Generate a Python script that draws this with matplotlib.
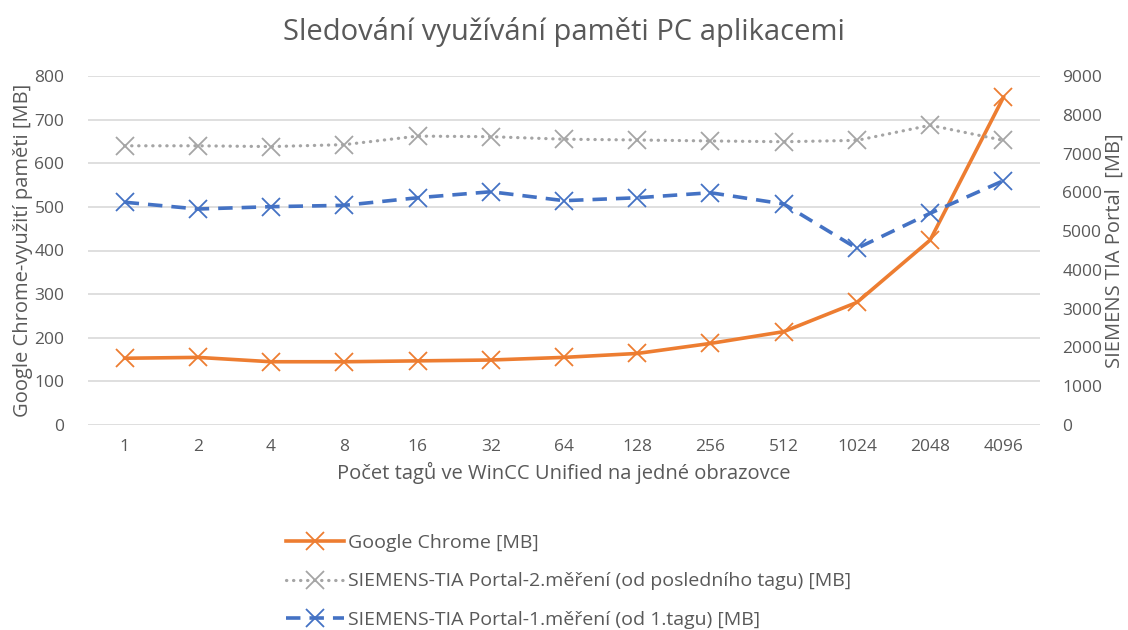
import matplotlib
matplotlib.use("Agg")
import matplotlib.pyplot as plt
from matplotlib.lines import Line2D

plt.rcParams['font.family'] = ['Open Sans', 'DejaVu Sans']

categories = ["1", "2", "4", "8", "16", "32", "64", "128", "256", "512", "1024", "2048", "4096"]
chrome_mb = [153, 155, 145, 145, 147, 149, 155, 164, 187, 214, 281, 424, 751]
tia_2_mb = [7200, 7200, 7180, 7230, 7450, 7435, 7370, 7350, 7325, 7305, 7340, 7730, 7340]
tia_1_mb = [5745, 5570, 5630, 5665, 5860, 6015, 5785, 5860, 5990, 5700, 4555, 5460, 6300]

left_ticks = [0, 100, 200, 300, 400, 500, 600, 700, 800]
right_ticks = [0, 1000, 2000, 3000, 4000, 5000, 6000, 7000, 8000, 9000]

ORANGE = "#ED7D31"
GRAY = "#A5A5A5"
BLUE = "#4472C4"
TXT = "#595959"
GRID = "#D9D9D9"

DOT = (0, (0.1, 2.1))
DASH = (0, (4, 2.5))

W, H = 1128, 630
fig = plt.figure(figsize=(W / 100, H / 100), dpi=100)
x0, x1, y0, y1 = 88, 1040, 76, 425
ax = fig.add_axes([x0 / W, 1 - y1 / H, (x1 - x0) / W, (y1 - y0) / H])
ax2 = ax.twinx()

xs = list(range(len(categories)))

ax.plot(xs, chrome_mb, color=ORANGE, lw=2.6, marker='x', ms=13, mew=1.3,
        solid_joinstyle='round', zorder=3)
ax2.plot(xs, tia_2_mb, color=GRAY, lw=2.3, ls=DOT, dash_capstyle='round',
         marker='x', ms=13, mew=1.3, zorder=3)
ax2.plot(xs, tia_1_mb, color=BLUE, lw=2.6, ls=DASH, marker='x', ms=13, mew=1.3,
         zorder=3)

ax.set_xlim(-0.5, len(categories) - 0.5)
ax.set_ylim(0, 800)
ax2.set_ylim(0, 9000)
ax.set_yticks(left_ticks)
ax2.set_yticks(right_ticks)
ax.set_xticks(xs)
ax.set_xticklabels(categories)

ax.grid(axis='y', color=GRID, lw=1.2)
ax.set_axisbelow(True)
for a in (ax, ax2):
    for s in a.spines.values():
        s.set_visible(False)
    a.tick_params(length=0, colors=TXT, labelsize=12.5)
ax.tick_params(axis='y', pad=17)
ax2.tick_params(axis='y', pad=16)
ax.tick_params(axis='x', pad=10)

ax.set_ylabel("Google Chrome-využití paměti [MB]", color=TXT, fontsize=14.5, labelpad=1)
ax2.set_ylabel("SIEMENS TIA Portal  [MB]", color=TXT, fontsize=14.5, labelpad=2)
ax.set_xlabel("Počet tagů ve WinCC Unified na jedné obrazovce", color=TXT, fontsize=14.5, labelpad=5)

fig.text(0.5, 1 - 32 / H, "Sledování využívání paměti PC aplikacemi", ha='center', va='center',
         color=TXT, fontsize=21)

handles = [
    Line2D([], [], color=ORANGE, lw=2.6, marker='x', ms=13, mew=1.3),
    Line2D([], [], color=GRAY, lw=2.3, ls=DOT, dash_capstyle='round', marker='x', ms=13, mew=1.3),
    Line2D([], [], color=BLUE, lw=2.6, ls=DASH, marker='x', ms=13, mew=1.3),
]
labels = ["Google Chrome [MB]",
          "SIEMENS-TIA Portal-2.měření (od posledního tagu) [MB]",
          "SIEMENS-TIA Portal-1.měření (od 1.tagu) [MB]"]
leg = fig.legend(handles, labels, loc='upper left', bbox_to_anchor=(286 / W, 1 - 534 / H),
                 frameon=False, fontsize=14, handlelength=3.0, handletextpad=0.2,
                 labelspacing=1.05, labelcolor=TXT, borderaxespad=0, borderpad=0)

fig.savefig("out.png", dpi=100)
